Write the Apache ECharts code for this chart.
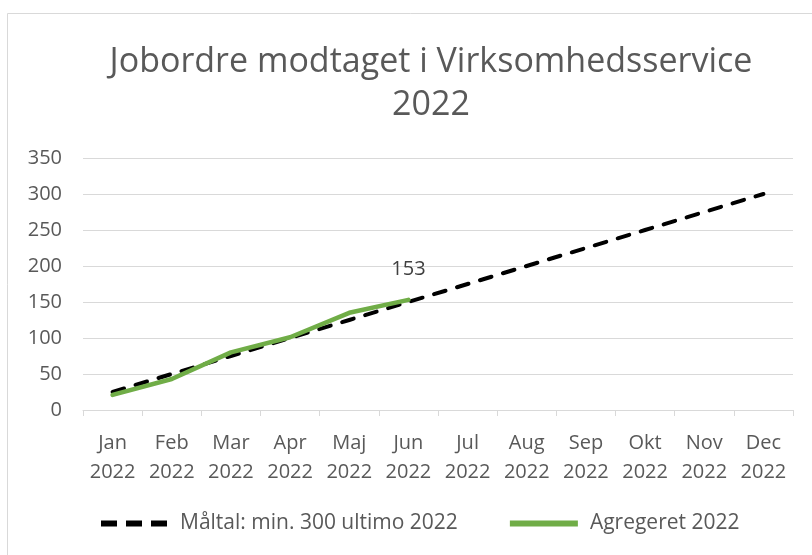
<!DOCTYPE html>
<html>
<head>
<meta charset="utf-8">
<script src="https://cdn.jsdelivr.net/npm/echarts@6/dist/echarts.min.js"></script>
<style>
  html, body { margin: 0; padding: 0; background: #fff; }
  #chart { width: 812px; height: 555px; }
</style>
</head>
<body>
<div id="chart"></div>
<script>
// data
var months = ['Jan\n2022', 'Feb\n2022', 'Mar\n2022', 'Apr\n2022', 'Maj\n2022', 'Jun\n2022',
  'Jul\n2022', 'Aug\n2022', 'Sep\n2022', 'Okt\n2022', 'Nov\n2022', 'Dec\n2022']
var target = [25, 50, 75, 100, 125, 150, 175, 200, 225, 250, 275, 300]
var actual = [21, 43, 80, 101, 135, 153]
var titleLines = ['Jobordre modtaget i Virksomhedsservice', '2022']
var seriesNames = ['Måltal: min. 300 ultimo 2022', 'Agregeret 2022']

var txt = '#595959'
var font = 'Open Sans'

var myChart = echarts.init(document.getElementById('chart'))

var option = {
  backgroundColor: '#fff',
  animation: false,
  title: [
    { text: titleLines[0], left: 426, top: 40, textAlign: 'center',
      textStyle: { fontFamily: font, fontSize: 34, fontWeight: 'normal', color: txt } },
    { text: titleLines[1], left: 426, top: 83, textAlign: 'center',
      textStyle: { fontFamily: font, fontSize: 34, fontWeight: 'normal', color: txt } }
  ],
  graphic: [{
    type: 'rect',
    shape: { x: 7.5, y: 13.5, width: 820, height: 560 },
    style: { fill: 'none', stroke: '#d9d9d9', lineWidth: 1 }
  }],
  legend: {
    left: 96,
    top: 508,
    itemWidth: 68,
    itemHeight: 6,
    itemGap: 52,
    textStyle: { fontFamily: font, fontSize: 21, color: txt, padding: [0, 0, 0, 7] },
    data: [
      { name: seriesNames[0], icon: 'path://M0,0h16v6h-16z M25,0h16v6h-16z M50,0h16v6h-16z' },
      { name: seriesNames[1], icon: 'rect' }
    ]
  },
  grid: { left: 83, right: 19, top: 158, bottom: 145 },
  xAxis: {
    type: 'category',
    data: months,
    boundaryGap: true,
    axisLine: { lineStyle: { color: '#d9d9d9', width: 1 } },
    axisTick: { show: true, length: 6, lineStyle: { color: '#d9d9d9' } },
    axisLabel: { fontFamily: font, fontSize: 20, color: txt, lineHeight: 29, margin: 19, interval: 0 }
  },
  yAxis: {
    type: 'value',
    min: 0,
    max: 350,
    interval: 50,
    axisLine: { show: false },
    axisTick: { show: false },
    splitLine: { lineStyle: { color: '#d9d9d9', width: 1 } },
    axisLabel: { fontFamily: font, fontSize: 20, color: txt, margin: 21 }
  },
  series: [
    {
      name: seriesNames[0],
      type: 'line',
      data: target,
      symbol: 'none',
      itemStyle: { color: '#000' },
      lineStyle: { color: '#000', width: 4, type: [12, 12], cap: 'round' },
      z: 2
    },
    {
      name: seriesNames[1],
      type: 'line',
      data: actual.map(function (v, i) {
        return i === actual.length - 1 ? { value: v, label: { show: true } } : v
      }),
      symbol: 'circle',
      symbolSize: 0,
      showSymbol: true,
      itemStyle: { color: '#70ad47' },
      lineStyle: { color: '#70ad47', width: 4.5, cap: 'round' },
      z: 3,
      label: {
        show: false,
        position: 'top',
        distance: 21,
        fontFamily: font,
        fontSize: 20,
        color: '#404040'
      }
    }
  ]
}

myChart.setOption(option)
</script>
</body>
</html>
